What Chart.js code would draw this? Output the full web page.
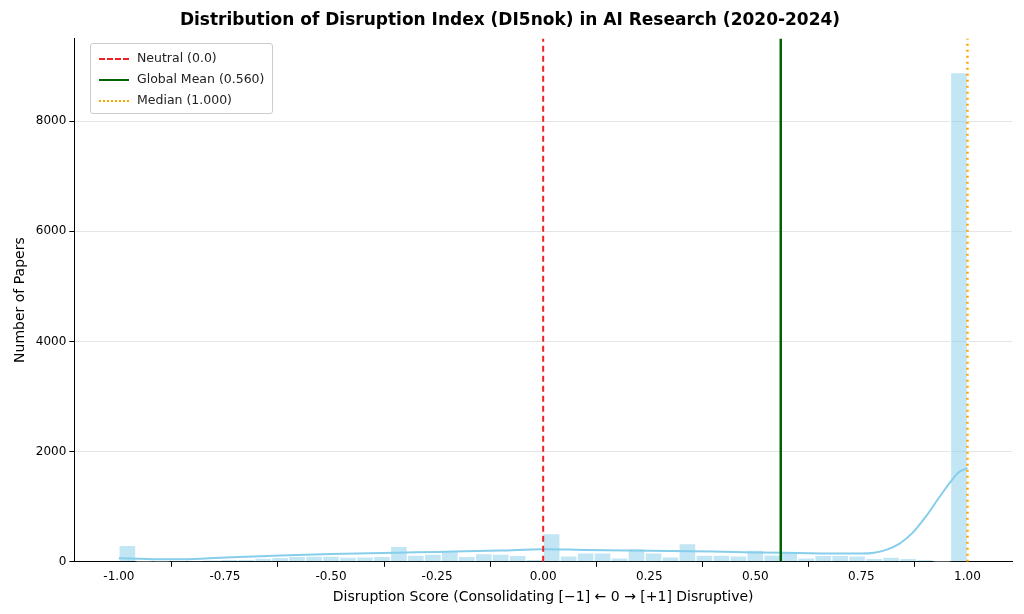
<!DOCTYPE html>
<html><head><script src="https://cdn.jsdelivr.net/npm/chart.js@4"></script>
<style>body{margin:0;background:#fff;font-family:'DejaVu Sans'}#w{width:1024px;height:614px;position:relative}
#lg{position:absolute;left:90px;top:43px;border:1px solid #ccc;border-radius:3px;background:rgba(255,255,255,0.85);padding:3px 8px 3px 8px;font-size:12.5px;color:#222;line-height:21px}
.s{display:inline-block;width:30px;height:0;vertical-align:middle;margin-right:8px}</style></head>
<body><div id="w"><canvas id="c"></canvas>
<div id="lg"><div><span class="s" style="border-top:2px dashed #ee2222"></span>Neutral (0.0)</div>
<div><span class="s" style="border-top:2.5px solid #006400"></span>Global Mean (0.560)</div>
<div><span class="s" style="border-top:2.5px dotted orange"></span>Median (1.000)</div></div></div>
<script>
const binCenters=[];for(let i=0;i<50;i++)binCenters.push(-0.98+i*0.04);
const counts=[300,5,5,10,15,25,40,45,67,80,100,104,104,85,90,98,280,122,140,200,98,150,140,116,43,
510,110,165,165,73,238,165,92,330,122,122,110,214,128,177,73,116,116,110,61,85,61,37,5,8880];
const kdeX=[-1,-0.95,-0.9,-0.85,-0.75,-0.6,-0.5,-0.35,-0.25,-0.1,0,0.1,0.25,0.4,0.5,0.6,0.7,0.75,0.78,0.81,0.84,0.87,0.9,0.93,0.96,0.98,1.0];
const kdeY=[65,55,45,45,80,120,140,165,180,205,230,215,200,185,170,160,150,150,165,220,330,520,800,1130,1450,1630,1700];
const meanVal=0.560, medianVal=1.0;
const ctx=document.getElementById('c');
new Chart(ctx,{data:{datasets:[
 {type:'line',label:'Neutral (0.0)',data:[{x:0,y:0},{x:0,y:9500}],borderColor:'#ee2222',borderWidth:2,borderDash:[6,4],pointRadius:0},
 {type:'line',label:'Global Mean (0.560)',data:[{x:meanVal,y:0},{x:meanVal,y:9500}],borderColor:'#006400',borderWidth:2.5,pointRadius:0},
 {type:'line',label:'Median (1.000)',data:[{x:medianVal,y:0},{x:medianVal,y:9500}],borderColor:'orange',borderWidth:2.5,borderDash:[2,4],pointRadius:0},
 {type:'line',label:'kde',data:kdeX.map((x,i)=>({x,y:kdeY[i]})),borderColor:'#87ceeb',borderWidth:2,pointRadius:0,cubicInterpolationMode:'monotone'},
 {type:'bar',label:'hist',data:binCenters.map((x,i)=>({x,y:counts[i]})),backgroundColor:'rgba(135,206,235,0.5)',borderColor:'#fff',borderWidth:1,barPercentage:1,categoryPercentage:1}
]},
options:{responsive:true,maintainAspectRatio:false,animation:false,
 layout:{padding:{left:8,right:12,top:4,bottom:4}},
 plugins:{title:{display:true,text:'Distribution of Disruption Index (DI5nok) in AI Research (2020-2024)',font:{size:17,weight:'bold',family:'DejaVu Sans'},color:'#000',padding:{top:6,bottom:8}},
  legend:{display:false},tooltip:{enabled:false}},
 scales:{x:{type:'linear',offset:false,min:-1.105,max:1.105,grid:{display:true,drawOnChartArea:false,color:'#000',tickLength:5},border:{color:'#000'},
   afterBuildTicks:s=>{s.ticks=[-1,-0.75,-0.5,-0.25,0,0.25,0.5,0.75,1].map(v=>({value:v}));},
   ticks:{callback:v=>v.toFixed(2),font:{size:12,family:'DejaVu Sans'},color:'#000',maxRotation:0},
   title:{display:true,text:'Disruption Score (Consolidating [−1] ← 0 → [+1] Disruptive)',font:{size:14,family:'DejaVu Sans'},color:'#000',padding:{top:2}}},
  y:{min:0,max:9500,afterBuildTicks:s=>{s.ticks=[0,2000,4000,6000,8000].map(v=>({value:v}));},
   grid:{color:'rgba(0,0,0,0.1)',tickColor:'#000',tickLength:5},border:{color:'#000'},ticks:{callback:v=>String(v),font:{size:12,family:'DejaVu Sans'},color:'#000'},
   title:{display:true,text:'Number of Papers',font:{size:14,family:'DejaVu Sans'},color:'#000'}}}}});
</script></body></html>
